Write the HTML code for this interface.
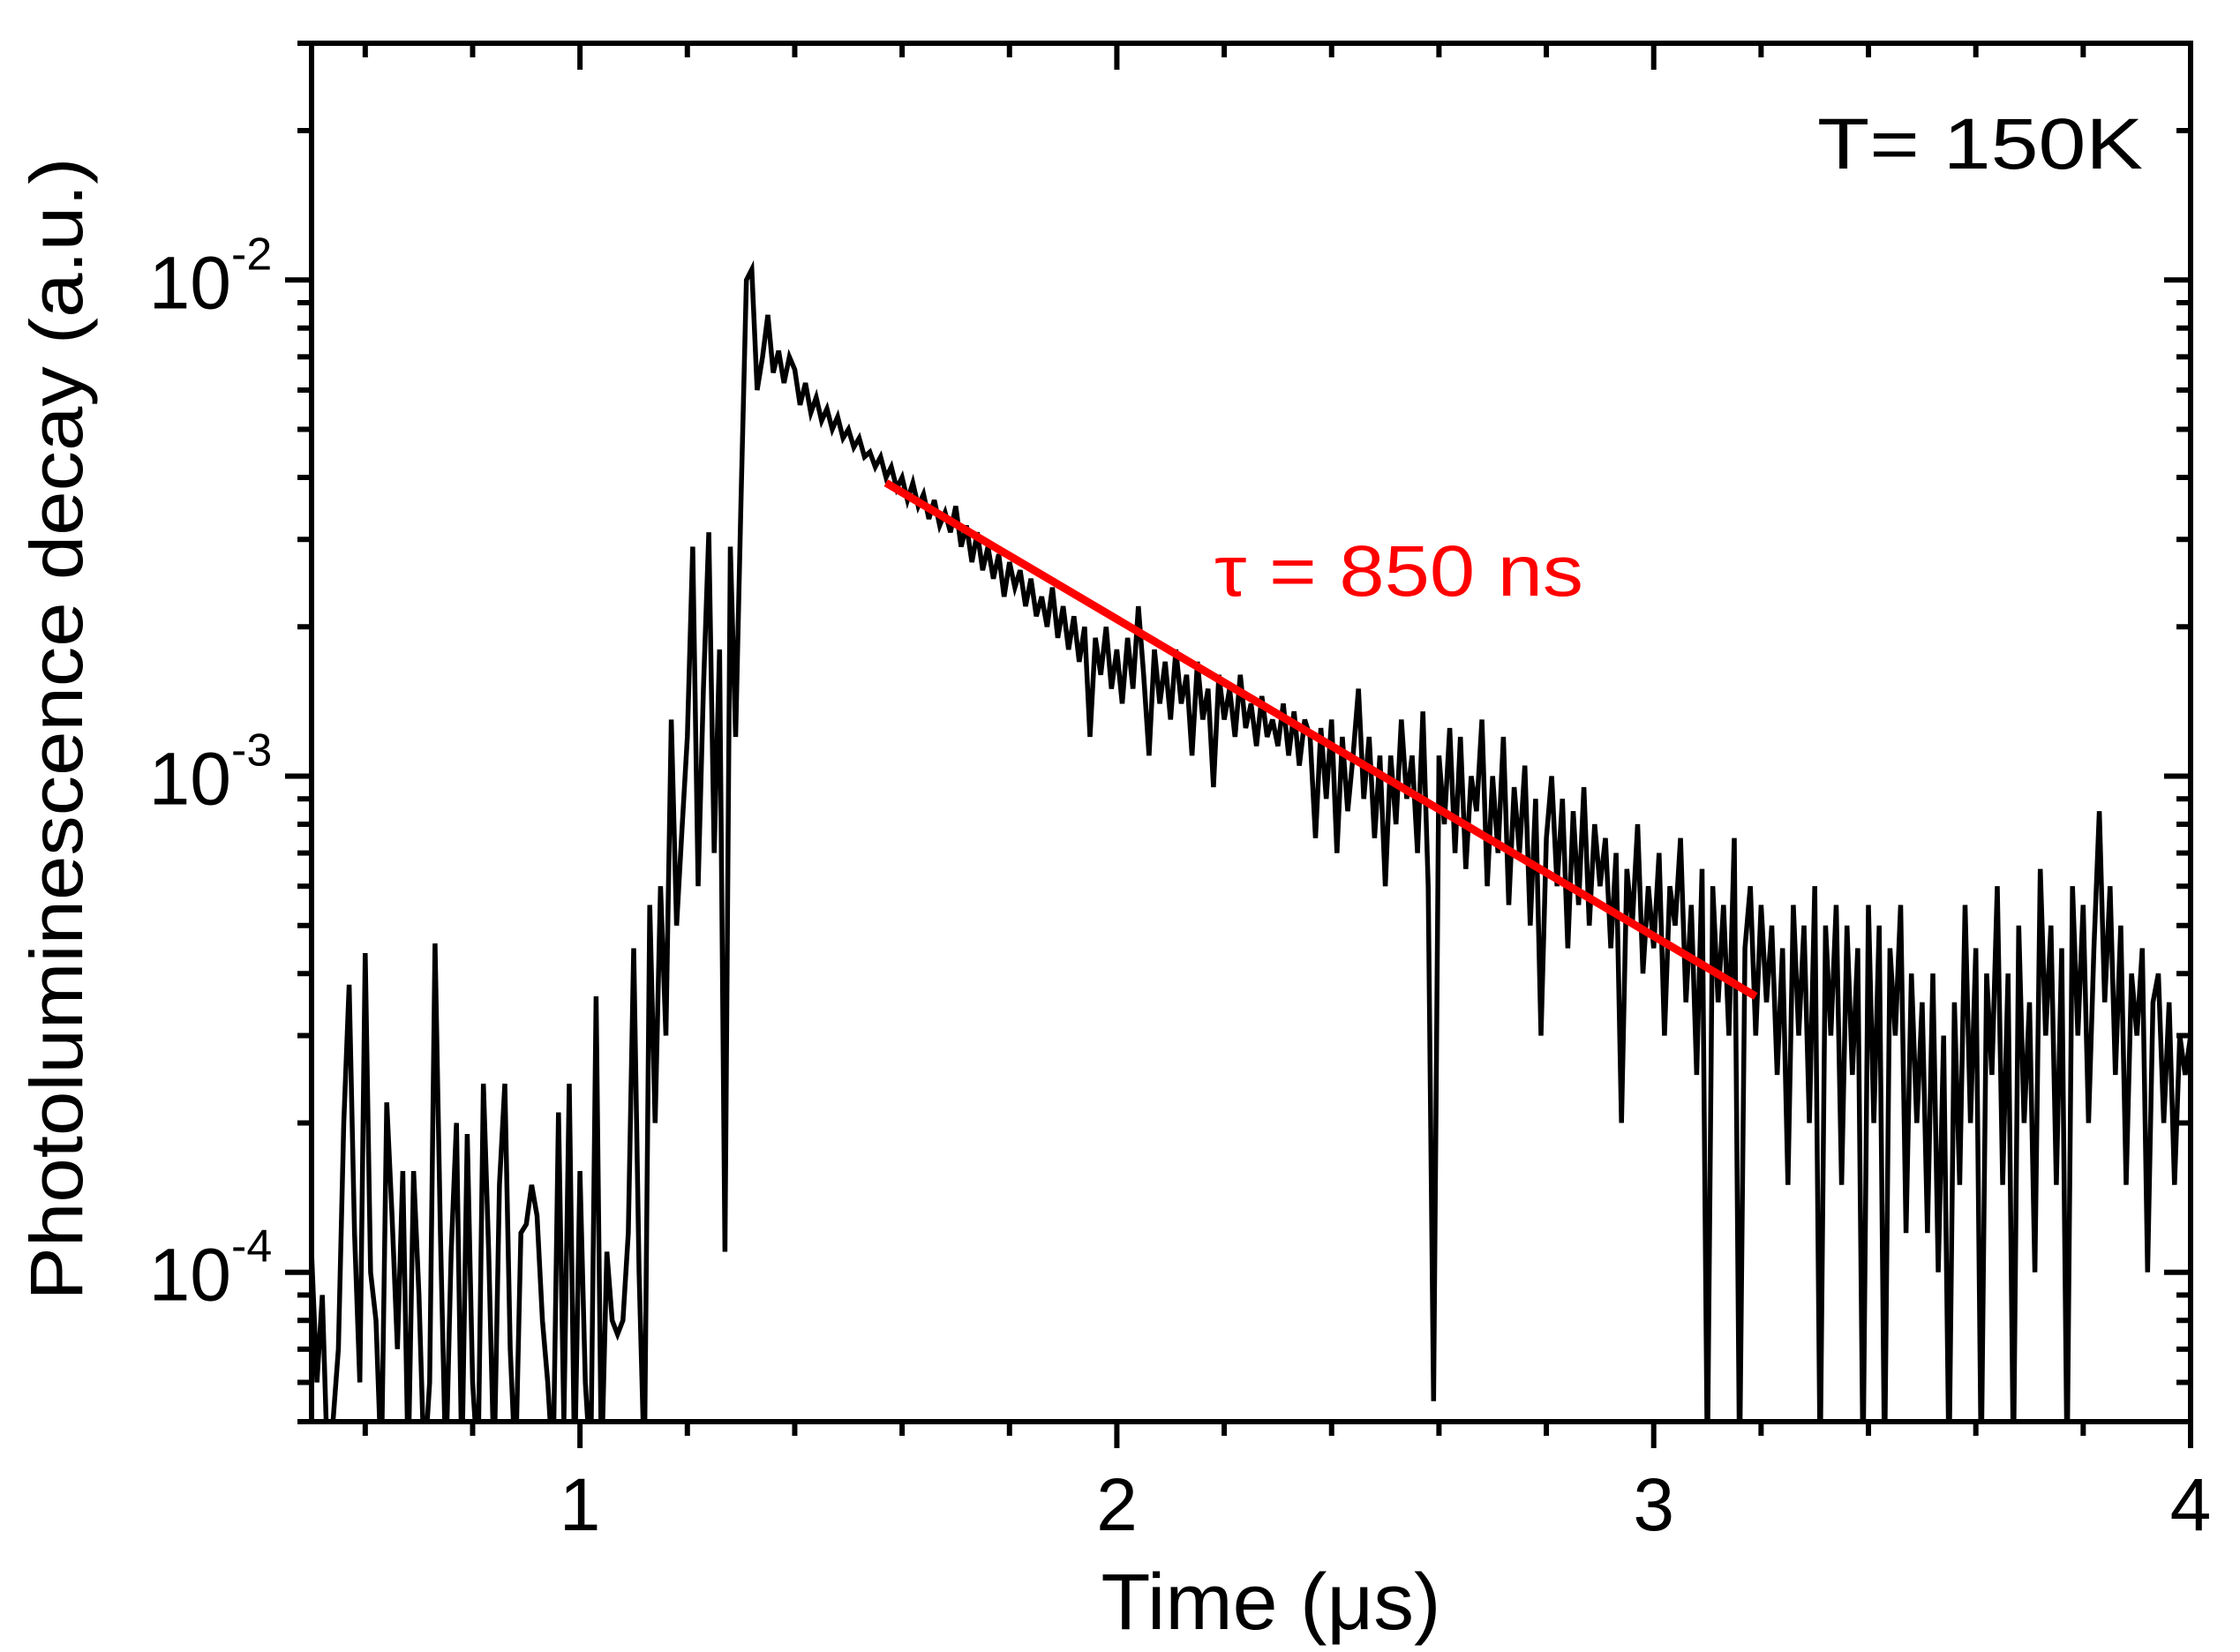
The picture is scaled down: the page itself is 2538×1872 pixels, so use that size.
<!DOCTYPE html>
<html><head><meta charset="utf-8"><style>
html,body{margin:0;padding:0;background:#fff;}
svg{display:block;font-family:"Liberation Sans",Arial,sans-serif;}
</style></head><body>
<svg id="chart" width="2538" height="1872" viewBox="0 0 2538 1872" xmlns="http://www.w3.org/2000/svg">
<defs><clipPath id="plotclip"><rect x="353" y="49" width="2129" height="1562"/></clipPath></defs>
<g id="series" clip-path="url(#plotclip)"></g>
<g id="axes"></g>
<text x="0" y="0" transform="translate(93,826) rotate(-90)" text-anchor="middle" font-size="84" textLength="1295" lengthAdjust="spacingAndGlyphs">Photoluminescence decay (a.u.)</text>
<text x="1440" y="1846" text-anchor="middle" font-size="90" textLength="385" lengthAdjust="spacingAndGlyphs">Time (μs)</text>
<text x="2059" y="191" font-size="82" textLength="369" lengthAdjust="spacingAndGlyphs">T= 150K</text>
<text x="1376" y="675" font-size="82" fill="#ff0000" textLength="418" lengthAdjust="spacingAndGlyphs">τ = 850 ns</text>
</svg>
<script>
const tStart = 0.5;
const tStep = 0.01;
const plValues = [
1.1e-4,6e-5,9e-5,4e-5,5e-5,7e-5,2e-4,3.8e-4,1.2e-4,6e-5,
4.4e-4,1e-4,8e-5,4e-5,2.2e-4,1.3e-4,7e-5,1.6e-4,4e-5,1.6e-4,
9e-5,4e-5,6e-5,4.6e-4,1.2e-4,4e-5,1.1e-4,2e-4,4e-5,1.9e-4,
6e-5,4e-5,2.4e-4,1.1e-4,4e-5,1.5e-4,2.4e-4,7e-5,4e-5,1.2e-4,
1.25e-4,1.5e-4,1.3e-4,8e-5,6e-5,4e-5,2.1e-4,5e-5,2.4e-4,4e-5,
1.6e-4,6e-5,4e-5,3.6e-4,4e-5,1.1e-4,8e-5,7.5e-5,8e-5,1.2e-4,
4.5e-4,1e-4,4e-5,5.5e-4,2e-4,6e-4,3e-4,1.3e-3,5e-4,7.8e-4,
1.2e-3,2.9e-3,6e-4,1.5e-3,3.1e-3,7e-4,1.8e-3,1.1e-4,2.9e-3,1.2e-3,
3.6e-3,1.0e-2,1.05e-2,6e-3,7e-3,8.5e-3,6.5e-3,7.2e-3,6.2e-3,7e-3,
6.6e-3,5.6e-3,6.2e-3,5.4e-3,5.8e-3,5.2e-3,5.5e-3,5e-3,5.3e-3,4.8e-3,
5e-3,4.6e-3,4.8e-3,4.4e-3,4.5e-3,4.2e-3,4.4e-3,4e-3,4.2e-3,3.8e-3,
4e-3,3.6e-3,3.9e-3,3.5e-3,3.7e-3,3.3e-3,3.6e-3,3.2e-3,3.4e-3,3.1e-3,
3.5e-3,2.9e-3,3.2e-3,2.7e-3,3.1e-3,2.6e-3,2.9e-3,2.5e-3,2.8e-3,2.3e-3,
2.7e-3,2.4e-3,2.6e-3,2.2e-3,2.5e-3,2.1e-3,2.3e-3,2.0e-3,2.4e-3,1.9e-3,
2.2e-3,1.8e-3,2.1e-3,1.7e-3,2.0e-3,1.2e-3,1.9e-3,1.6e-3,2.0e-3,1.5e-3,
1.8e-3,1.4e-3,1.9e-3,1.5e-3,2.2e-3,1.6e-3,1.1e-3,1.8e-3,1.4e-3,1.7e-3,
1.3e-3,1.8e-3,1.4e-3,1.6e-3,1.1e-3,1.7e-3,1.3e-3,1.5e-3,0.95e-3,1.6e-3,
1.3e-3,1.5e-3,1.2e-3,1.6e-3,1.25e-3,1.4e-3,1.15e-3,1.45e-3,1.2e-3,1.3e-3,
1.15e-3,1.4e-3,1.1e-3,1.35e-3,1.05e-3,1.3e-3,1.2e-3,0.75e-3,1.25e-3,0.9e-3,
1.3e-3,0.7e-3,1.2e-3,0.85e-3,1.1e-3,1.5e-3,0.9e-3,1.2e-3,0.75e-3,1.1e-3,
0.6e-3,1.1e-3,0.8e-3,1.3e-3,0.9e-3,1.1e-3,0.7e-3,1.35e-3,0.6e-3,5.5e-5,
1.1e-3,0.8e-3,1.25e-3,0.7e-3,1.2e-3,0.65e-3,1.0e-3,0.85e-3,1.3e-3,0.6e-3,
1.0e-3,0.7e-3,1.2e-3,0.55e-3,0.95e-3,0.7e-3,1.05e-3,0.5e-3,0.9e-3,0.3e-3,
0.75e-3,1.0e-3,0.6e-3,0.9e-3,0.45e-3,0.85e-3,0.55e-3,0.95e-3,0.5e-3,0.8e-3,
0.6e-3,0.75e-3,0.45e-3,0.7e-3,0.2e-3,0.65e-3,0.5e-3,0.8e-3,0.4e-3,0.6e-3,
0.45e-3,0.7e-3,0.3e-3,0.6e-3,0.5e-3,0.75e-3,0.35e-3,0.55e-3,0.25e-3,0.65e-3,
4e-5,0.6e-3,0.35e-3,0.55e-3,0.3e-3,0.75e-3,4e-5,0.45e-3,0.6e-3,0.3e-3,
0.55e-3,0.35e-3,0.5e-3,0.25e-3,0.45e-3,0.15e-3,0.55e-3,0.3e-3,0.5e-3,0.2e-3,
0.6e-3,4e-5,0.5e-3,0.3e-3,0.55e-3,0.15e-3,0.5e-3,0.25e-3,0.45e-3,4e-5,
0.55e-3,0.2e-3,0.5e-3,4e-5,0.45e-3,0.3e-3,0.55e-3,0.12e-3,0.4e-3,0.2e-3,
0.35e-3,0.12e-3,0.4e-3,0.1e-3,0.3e-3,4e-5,0.35e-3,0.15e-3,0.55e-3,0.2e-3,
0.45e-3,4e-5,0.4e-3,0.25e-3,0.6e-3,0.15e-3,0.4e-3,4e-5,0.5e-3,0.2e-3,
0.35e-3,0.1e-3,0.65e-3,0.3e-3,0.5e-3,0.15e-3,0.45e-3,4e-5,0.6e-3,0.3e-3,
0.55e-3,0.2e-3,0.45e-3,0.85e-3,0.35e-3,0.6e-3,0.25e-3,0.5e-3,0.15e-3,0.4e-3,
0.3e-3,0.45e-3,0.1e-3,0.35e-3,0.4e-3,0.2e-3,0.35e-3,0.15e-3,0.3e-3,0.25e-3,
0.3e-3
];
const fitTimes = [1.57, 3.19];
const fitValues = [3.9e-3, 3.6e-4];
const xTickValues = [1, 2, 3, 4];
const xTickLabels = ["1", "2", "3", "4"];
const yDecades = [-4, -3, -2];
const yTickLabels = ["-4", "-3", "-2"];

const X0 = 353, X1 = 2482, Y0 = 1611, Y1 = 49;
const xMin = 0.5, xMax = 4.0, lMin = Math.log10(5e-5), lMax = Math.log10(3e-2);
function xs(t){ return X0 + (t - xMin) / (xMax - xMin) * (X1 - X0); }
function ys(v){ return Y0 - (Math.log10(v) - lMin) / (lMax - lMin) * (Y0 - Y1); }
const NS = "http://www.w3.org/2000/svg";
function mk(tag, attrs, parent){ const e = document.createElementNS(NS, tag); for (const k in attrs) e.setAttribute(k, attrs[k]); parent.appendChild(e); return e; }

const series = document.getElementById('series');
let d = '';
plValues.forEach((v, i) => { const t = tStart + i * tStep; d += (i ? 'L' : 'M') + xs(t).toFixed(1) + ',' + ys(v).toFixed(1); });
const line = mk('path', {d: d, fill: 'none', stroke: '#000', 'stroke-width': 5.5, 'stroke-linejoin': 'miter'}, series);


let fd = '';
fitTimes.forEach((t, i) => { fd += (i ? 'L' : 'M') + xs(t) + ',' + ys(fitValues[i]); });
const fit = mk('path', {d: fd, fill: 'none', stroke: '#ff0000', 'stroke-width': 9}, series);



const axes = document.getElementById('axes');
const frame = mk('rect', {x: X0, y: Y1, width: X1 - X0, height: Y0 - Y1, fill: 'none', stroke: '#000', 'stroke-width': 6}, axes);


for (let k = 3; k <= 20; k++) {
  const t = k * 0.2; if (t < xMin - 1e-9 || t > xMax + 1e-9) continue;
  const major = Math.abs(t - Math.round(t)) < 1e-9;
  const L = major ? 30 : 16; const x = xs(t);
  mk('line', {x1: x, y1: Y0, x2: x, y2: Y0 + L, stroke: '#000', 'stroke-width': 6}, axes);
  mk('line', {x1: x, y1: Y1, x2: x, y2: Y1 + L, stroke: '#000', 'stroke-width': 6}, axes);
}
xTickValues.forEach((t, i) => {
  const lab = mk('text', {x: xs(t), y: 1734, 'text-anchor': 'middle', 'font-size': 84}, axes);
  lab.textContent = xTickLabels[i];
  
  
});
for (let e = -5; e <= -2; e++) {
  for (let m = 1; m <= 9; m++) {
    const v = m * Math.pow(10, e); if (v < 5e-5 * 0.999 || v > 3e-2) continue;
    const y = ys(v); const L = m === 1 ? 30 : 16;
    mk('line', {x1: X0 - L, y1: y, x2: X0, y2: y, stroke: '#000', 'stroke-width': 6}, axes);
    mk('line', {x1: X1 - L, y1: y, x2: X1, y2: y, stroke: '#000', 'stroke-width': 6}, axes);
  }
}
yDecades.forEach((e, i) => {
  const y = ys(Math.pow(10, e));
  const lab = mk('text', {x: 262, y: y + 32, 'text-anchor': 'end', 'font-size': 84}, axes);
  lab.textContent = '10';
  
  
  const sup = mk('text', {x: 262, y: y - 12, 'text-anchor': 'start', 'font-size': 52}, axes);
  sup.textContent = yTickLabels[i];
  
  
});
</script>
</body></html>
